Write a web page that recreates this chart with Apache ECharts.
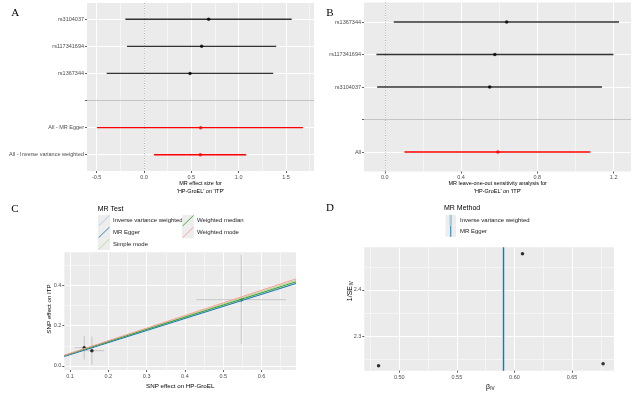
<!DOCTYPE html>
<html><head><meta charset="utf-8">
<script src="https://cdn.jsdelivr.net/npm/echarts@6/dist/echarts.min.js"></script>
<style>html,body{margin:0;padding:0;background:#fff}#c{width:633px;height:393px}</style>
</head><body><div id="c"></div>
<script>
// ---------- Panel A : forest plot ----------
const aSnpNames = ['rs3104037', 'rs117341694', 'rs1367344'];
const aSnpB  = [0.683, 0.609, 0.486];
const aSnpLo = [-0.197, -0.180, -0.394];
const aSnpHi = [1.560, 1.397, 1.365];
const aSumNames = ['All - MR Egger', 'All - Inverse variance weighted'];
const aSumB  = [0.599, 0.595];
const aSumLo = [-0.496, 0.106];
const aSumHi = [1.679, 1.080];
const aXTicks = [-0.5, 0, 0.5, 1, 1.5];
const aXMinor = [-0.25, 0.25, 0.75, 1.25, 1.75];
const aXTitle = "MR effect size for\n'HP-GroEL' on 'ITP'";

// ---------- Panel B : leave-one-out ----------
const bSnpNames = ['rs1367344', 'rs117341694', 'rs3104037'];
const bSnpB  = [0.639, 0.577, 0.550];
const bSnpLo = [0.047, -0.044, -0.040];
const bSnpHi = [1.228, 1.199, 1.139];
const bSumNames = ['All'];
const bSumB  = [0.593];
const bSumLo = [0.103];
const bSumHi = [1.078];
const bXTicks = [0, 0.4, 0.8, 1.2];
const bXMinor = [0.2, 0.6, 1.0];
const bXTitle = "MR leave-one-out sensitivity analysis for\n'HP-GroEL' on 'ITP'";

// ---------- Panel C : scatter ----------
const cSnpX   = [0.137, 0.157, 0.547];
const cSnpY   = [0.091, 0.076, 0.329];
const cSnpXse = [0.025, 0.032, 0.117];
const cSnpYse = [0.059, 0.070, 0.221];
const cMethods = ['Inverse variance weighted', 'MR Egger', 'Simple mode', 'Weighted median', 'Weighted mode'];
const cSlope = [0.595, 0.599, 0.615, 0.605, 0.626];
const cIntercept = [0, -0.004, 0, 0, 0];
const cXTicks = [0.1, 0.2, 0.3, 0.4, 0.5, 0.6];
const cXMinor = [0.15, 0.25, 0.35, 0.45, 0.55, 0.65];
const cYTicks = [0, 0.2, 0.4];
const cYMinor = [0.1, 0.3, 0.5];

// ---------- Panel D : funnel ----------
const dB     = [0.482, 0.607, 0.677];
const dInvSe = [2.2365, 2.478, 2.2408];
const dMethods = ['Inverse variance weighted', 'MR Egger'];
const dMethodB = [0.5915, 0.5925];
const dXTicks = [0.50, 0.55, 0.60, 0.65];
const dXMinor = [0.475, 0.525, 0.575, 0.625, 0.675];
const dYTicks = [2.3, 2.4];
const dYMinor = [2.25, 2.35, 2.45];

// ---------- styles ----------
const FONT = 'Liberation Sans';
const TICK_COL = '#4D4D4D';
const PAIRED = ['#A6CEE3', '#1F78B4', '#B2DF8A', '#33A02C', '#FB9A99'];
const D_COLORS = ['#A6CEE3', '#1F78B4'];
const D_WIDTHS = [2.5, 1];

const aLabels = [...aSnpNames, '', ...aSumNames];
const bLabels = [...bSnpNames, '', ...bSumNames];

const grids = [
  {left: 87, top: 3, width: 227, height: 168},
  {left: 364, top: 2.5, width: 267, height: 169},
  {left: 64.3, top: 252.3, width: 231.7, height: 117.7},
  {left: 364.3, top: 247.3, width: 249.7, height: 123.4}
].map(g => Object.assign({show: true, backgroundColor: '#EBEBEB', borderWidth: 0, containLabel: false, outerBoundsMode: 'none'}, g));

const xAxes = [], yAxes = [];
function mainAxis(dim, g, c) {
  return {
    type: 'value', gridIndex: g, min: c.min, max: c.max, inverse: !!c.inverse,
    position: dim === 'x' ? 'bottom' : 'left',
    axisLine: {show: false, onZero: false},
    axisTick: {show: true, customValues: c.ticks, length: 2, lineStyle: {color: '#333', width: 0.8}},
    axisLabel: {show: true, customValues: c.ticks, formatter: c.fmt, fontSize: 5.5, color: TICK_COL, margin: c.margin || 3, fontFamily: FONT, hideOverlap: false},
    splitLine: {show: true, lineStyle: {color: '#FFFFFF', width: 1}},
    minorTick: {show: false}, minorSplitLine: {show: false}
  };
}
function minorAxis(dim, g, c) {
  return {
    type: 'value', gridIndex: g, min: c.min, max: c.max, inverse: !!c.inverse,
    position: dim === 'x' ? 'top' : 'right',
    axisLine: {show: false, onZero: false},
    axisTick: {show: false, customValues: c.minor},
    axisLabel: {show: false, customValues: c.minor},
    splitLine: {show: c.minor.length > 0, lineStyle: {color: '#FFFFFF', width: 0.5}}
  };
}
function addPanel(g, xc, yc) {
  const xi = xAxes.length, yi = yAxes.length;
  xAxes.push(minorAxis('x', g, xc), mainAxis('x', g, xc));
  yAxes.push(minorAxis('y', g, yc), mainAxis('y', g, yc));
  return {xi: xi + 1, yi: yi + 1};
}
const idx = (arr) => arr.map((_, i) => i + 1);
const pA = addPanel(0,
  {min: -0.602, max: 1.796, ticks: aXTicks, minor: aXMinor, fmt: v => (+v).toFixed(1)},
  {min: 0.4, max: aLabels.length + 0.6, inverse: true, ticks: idx(aLabels), minor: [], fmt: v => aLabels[Math.round(v) - 1]});
const pB = addPanel(1,
  {min: -0.109, max: 1.291, ticks: bXTicks, minor: bXMinor, fmt: v => (+v).toFixed(1)},
  {min: 0.4, max: bLabels.length + 0.6, inverse: true, ticks: idx(bLabels), minor: [], fmt: v => bLabels[Math.round(v) - 1]});
const cXMin = 0.085, cXMax = 0.690;
const pC = addPanel(2,
  {min: cXMin, max: cXMax, ticks: cXTicks, minor: cXMinor, fmt: v => (+v).toFixed(1), margin: 3.5},
  {min: -0.02, max: 0.564, ticks: cYTicks, minor: cYMinor, fmt: v => (+v).toFixed(1)});
const pD = addPanel(3,
  {min: 0.4696, max: 0.6865, ticks: dXTicks, minor: dXMinor, fmt: v => (+v).toFixed(2), margin: 3.5},
  {min: 2.2257, max: 2.492, ticks: dYTicks, minor: dYMinor, fmt: v => (+v).toFixed(1)});

function hBars(p, rows, color, width) {
  return {
    type: 'custom', xAxisIndex: p.xi, yAxisIndex: p.yi, silent: true, z: 3,
    renderItem: (params, api) => {
      const a = api.coord([api.value(0), api.value(2)]);
      const b = api.coord([api.value(1), api.value(2)]);
      return {type: 'line', shape: {x1: a[0], y1: a[1], x2: b[0], y2: b[1]}, style: {stroke: color, lineWidth: width}};
    },
    data: rows
  };
}
function points(p, data, color, size, extra) {
  return Object.assign({type: 'scatter', xAxisIndex: p.xi, yAxisIndex: p.yi, silent: true, z: 4,
    symbol: 'circle', symbolSize: size, itemStyle: {color: color}, data: data}, extra || {});
}
function refLines(sepPos) {
  return {
    symbol: ['none', 'none'], silent: true, label: {show: false}, z: 2,
    data: [
      {xAxis: 0, lineStyle: {color: '#999999', width: 0.8, type: [1, 1.5]}},
      {yAxis: sepPos, lineStyle: {color: '#C4C4C4', width: 1, type: 'solid'}}
    ]
  };
}

const aSnpPos = aSnpNames.map((_, i) => i + 1);
const aSumPos = aSumNames.map((_, i) => aSnpNames.length + 2 + i);
const bSnpPos = bSnpNames.map((_, i) => i + 1);
const bSumPos = bSumNames.map((_, i) => bSnpNames.length + 2 + i);

const series = [
  // A
  hBars(pA, aSnpLo.map((v, i) => [v, aSnpHi[i], aSnpPos[i]]), '#333333', 1.3),
  hBars(pA, aSumLo.map((v, i) => [v, aSumHi[i], aSumPos[i]]), '#FF0000', 1.3),
  points(pA, aSnpB.map((v, i) => [v, aSnpPos[i]]), '#000000', 3.5, {markLine: refLines(aSnpNames.length + 1)}),
  points(pA, aSumB.map((v, i) => [v, aSumPos[i]]), '#FF0000', 3.5),
  // B
  hBars(pB, bSnpLo.map((v, i) => [v, bSnpHi[i], bSnpPos[i]]), '#333333', 1.3),
  hBars(pB, bSumLo.map((v, i) => [v, bSumHi[i], bSumPos[i]]), '#FF0000', 1.3),
  points(pB, bSnpB.map((v, i) => [v, bSnpPos[i]]), '#000000', 3.5, {markLine: refLines(bSnpNames.length + 1)}),
  points(pB, bSumB.map((v, i) => [v, bSumPos[i]]), '#FF0000', 3.5),
  // C error bars
  {
    type: 'custom', xAxisIndex: pC.xi, yAxisIndex: pC.yi, silent: true, z: 3,
    renderItem: (params, api) => {
      const x = api.value(0), y = api.value(1), sx = api.value(2), sy = api.value(3);
      const h1 = api.coord([x - sx, y]), h2 = api.coord([x + sx, y]);
      const v1 = api.coord([x, y - sy]), v2 = api.coord([x, y + sy]);
      const st = {stroke: '#BEBEBE', lineWidth: 0.8};
      return {type: 'group', children: [
        {type: 'line', shape: {x1: h1[0], y1: h1[1], x2: h2[0], y2: h2[1]}, style: st},
        {type: 'line', shape: {x1: v1[0], y1: v1[1], x2: v2[0], y2: v2[1]}, style: st}
      ]};
    },
    data: cSnpX.map((v, i) => [v, cSnpY[i], cSnpXse[i], cSnpYse[i]])
  },
  points(pC, cSnpX.map((v, i) => [v, cSnpY[i]]), '#000000', 3.5),
  ...cMethods.map((m, i) => ({
    type: 'line', name: m, xAxisIndex: pC.xi, yAxisIndex: pC.yi, silent: true, z: 5,
    symbol: 'none', showSymbol: false, lineStyle: {color: PAIRED[i], width: 1},
    data: [[cXMin, cIntercept[i] + cSlope[i] * cXMin], [cXMax, cIntercept[i] + cSlope[i] * cXMax]]
  })),
  // D
  points(pD, dB.map((v, i) => [v, dInvSe[i]]), '#000000', 3.5, {
    markLine: {
      symbol: ['none', 'none'], silent: true, label: {show: false},
      data: dMethods.map((m, i) => ({xAxis: dMethodB[i], lineStyle: {color: D_COLORS[i], width: D_WIDTHS[i], type: 'solid'}}))
    }
  })
];

// ---------- text & legends (graphic) ----------
const graphics = [];
function tEl(x, y, text, opts) {
  const o = Object.assign({size: 6, color: '#000', align: 'center', valign: 'middle', family: FONT, rot: 0}, opts || {});
  return {
    type: 'text', x: x, y: y, rotation: o.rot, silent: true,
    style: {text: text, x: 0, y: 0, fill: o.color, fontSize: o.size, fontFamily: o.family,
      textAlign: o.align, textVerticalAlign: o.valign, align: o.align, verticalAlign: o.valign,
      lineHeight: o.lh || undefined}
  };
}
function txt(x, y, text, opts) { graphics.push(tEl(x, y, text, opts)); }
// panel letters
txt(15.3, 13.3, 'A', {size: 11, family: 'Liberation Serif'});
txt(330, 12.7, 'B', {size: 11, family: 'Liberation Serif'});
txt(15, 208.7, 'C', {size: 11, family: 'Liberation Serif'});
txt(330, 208.3, 'D', {size: 11, family: 'Liberation Serif'});
// axis titles
txt(200.5, 187.5, aXTitle, {size: 5.5, lh: 7.8});
txt(497.7, 187.5, bXTitle, {size: 5.5, lh: 7.8});
txt(180.2, 386.7, 'SNP effect on HP-GroEL', {size: 6.2});
txt(49.3, 309, 'SNP effect on ITP', {size: 6.2, rot: Math.PI / 2});
// beta_IV
graphics.push({type: 'group', x: 489, y: 387, silent: true, children: [
  tEl(1, 0, 'β', {size: 7, align: 'right'}),
  tEl(1.3, 2, 'IV', {size: 4.6, align: 'left'})
]});
// 1/SE_IV (rotated)
graphics.push({type: 'group', x: 350.3, y: 289.5, rotation: Math.PI / 2, silent: true, children: [
  tEl(3.5, 0, '1/SE', {size: 7, align: 'right'}),
  tEl(4, 1.8, 'IV', {size: 4.6, align: 'left'})
]});

// legend C
txt(97.7, 209.3, 'MR Test', {size: 7, align: 'left'});
cMethods.forEach((m, i) => {
  const col = Math.floor(i / 3), row = i % 3;
  const kx = 98 + col * 84, ky = 214.9 + row * 11.7, kw = 12, kh = 11.7;
  graphics.push({type: 'rect', silent: true, shape: {x: kx, y: ky, width: kw, height: kh}, style: {fill: '#EDEDED'}});
  graphics.push({type: 'line', silent: true, shape: {x1: kx + 0.5, y1: ky + kh - 0.5, x2: kx + kw - 0.5, y2: ky + 0.5}, style: {stroke: PAIRED[i], lineWidth: 0.9}});
  txt(kx + kw + 3, ky + kh / 2, m, {size: 6, align: 'left', color: '#1A1A1A'});
});
// legend D
txt(444, 207.8, 'MR Method', {size: 7, align: 'left'});
dMethods.forEach((m, i) => {
  const kx = 445.5, ky = 214.8 + i * 11, kw = 10.5, kh = 11;
  graphics.push({type: 'rect', silent: true, shape: {x: kx, y: ky, width: kw, height: kh}, style: {fill: '#EDEDED'}});
  graphics.push({type: 'line', silent: true, shape: {x1: kx + kw / 2, y1: ky, x2: kx + kw / 2, y2: ky + kh}, style: {stroke: D_COLORS[i], lineWidth: D_WIDTHS[i]}});
  txt(kx + kw + 4, ky + kh / 2, m, {size: 6, align: 'left', color: '#1A1A1A'});
});

const chart = echarts.init(document.getElementById('c'), null, {renderer: 'canvas'});
chart.setOption({
  animation: false,
  backgroundColor: '#FFFFFF',
  textStyle: {fontFamily: FONT},
  grid: grids,
  xAxis: xAxes,
  yAxis: yAxes,
  series: series,
  graphic: graphics
});
</script></body></html>
